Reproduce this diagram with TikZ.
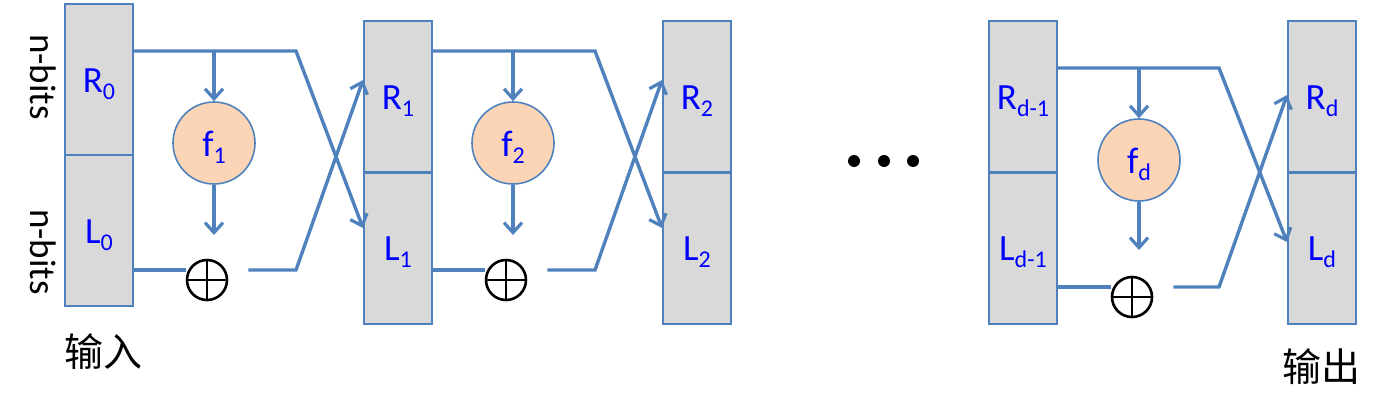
\documentclass[tikz,border=0pt]{standalone}
\usepackage{fontspec}
\setmainfont{Carlito}
\newfontfamily\cjk{Noto Sans CJK SC}
\usetikzlibrary{arrows.meta}
\definecolor{lnblue}{RGB}{79,129,189}
\definecolor{boxgray}{RGB}{217,217,217}
\definecolor{peach}{RGB}{251,213,181}
\definecolor{txtblue}{RGB}{0,0,255}
\newcommand\sbs[1]{\raisebox{-0.4ex}{\fontsize{12}{12}\selectfont #1}}
\newcommand\lbl[1]{\raisebox{-2.2pt}[\height][\depth]{#1}}
\begin{document}
\begin{tikzpicture}[x=0.5pt,y=-0.5pt,
 half/.style={draw=lnblue,line width=1pt,fill=boxgray,minimum width=34pt,minimum height=75.5pt,inner sep=0pt,text=txtblue,font=\fontsize{18.5}{18.5}\selectfont},
 func/.style={circle,draw=lnblue,line width=0.8pt,fill=peach,minimum size=41pt,inner sep=0pt,text=txtblue,font=\fontsize{18.5}{18.5}\selectfont},
 xor/.style={circle,draw=black,line width=1.3pt,minimum size=20pt,inner sep=0pt,path picture={\draw[black,line width=1.3pt] (path picture bounding box.north)--(path picture bounding box.south) (path picture bounding box.west)--(path picture bounding box.east);}},
 wire/.style={draw=lnblue,line width=1.7pt},
 arr/.style={wire,-{Straight Barb[length=5pt,width=9pt,line width=1.6pt]}},
 side/.style={rotate=-90,font=\fontsize{18.5}{18.5}\selectfont},
 cjklab/.style={font=\cjk\fontsize{19.5}{19.5}\selectfont},
 dot/.style={circle,fill=black,minimum size=6pt,inner sep=0pt}
]
\useasboundingbox (0,0) rectangle (1384,413);

% boxes
\node[half] (R0) at (99,79.5) {\lbl{R\sbs{0}}};
\node[half] (L0) at (99,230.5) {\lbl{L\sbs{0}}};
\node[half] (R1) at (398,96.5) {\lbl{R\sbs{1}}};
\node[half] (L1) at (398,248) {\lbl{L\sbs{1}}};
\node[half] (R2) at (697,96.5) {\lbl{R\sbs{2}}};
\node[half] (L2) at (697,248) {\lbl{L\sbs{2}}};
\node[half] (Rm) at (1023,96.5) {\lbl{R\sbs{d-1}}};
\node[half] (Lm) at (1023,248) {\lbl{L\sbs{d-1}}};
\node[half] (Rd) at (1322,96.5) {\lbl{R\sbs{d}}};
\node[half] (Ld) at (1322,248) {\lbl{L\sbs{d}}};

% functions and xors
\node[func] (f1) at (214,143) {\lbl{f\sbs{1}}};
\node[func] (f2) at (513,143) {\lbl{f\sbs{2}}};
\node[func] (fd) at (1139,160) {\lbl{f\sbs{d}}};
\node[xor] (x1) at (207,280) {};
\node[xor] (x2) at (506,280) {};
\node[xor] (xd) at (1132,297) {};

% round 1
\coordinate (a1) at (296,51);
\coordinate (b1) at (296,270);
\coordinate (o1) at ([xshift=10pt]x1.east);
\draw[arr] (R0.east |- a1) -- (a1) -- (L1.west |- 0,228);
\draw[arr] (f1.north |- a1) -- (f1.north);
\draw[arr] (f1.south) -- (f1.south |- 0,235);
\draw[wire] (L0.east |- b1) -- (x1.west |- b1);
\draw[arr] (o1 |- b1) -- (b1) -- (R1.west |- 0,80);

% round 2
\coordinate (a2) at (595,51);
\coordinate (b2) at (595,270);
\coordinate (o2) at ([xshift=10pt]x2.east);
\draw[arr] (R1.east |- a2) -- (a2) -- (L2.west |- 0,228);
\draw[arr] (f2.north |- a2) -- (f2.north);
\draw[arr] (f2.south) -- (f2.south |- 0,235);
\draw[wire] (L1.east |- b2) -- (x2.west |- b2);
\draw[arr] (o2 |- b2) -- (b2) -- (R2.west |- 0,80);

% round d
\coordinate (ad) at (1219,68);
\coordinate (bd) at (1219,287);
\coordinate (od) at ([xshift=10pt]xd.east);
\draw[arr] (Rm.east |- ad) -- (ad) -- (Ld.west |- 0,242);
\draw[arr] (fd.north |- ad) -- (fd.north);
\draw[arr] (fd.south) -- (fd.south |- 0,250);
\draw[wire] (Lm.east |- bd) -- (xd.west |- bd);
\draw[arr] (od |- bd) -- (bd) -- (Rd.west |- 0,95);

% dots
\node[dot] (d1) at (854,161) {};
\node[dot] (d2) at (884,161) {};
\node[dot] (d3) at (913,161) {};

% labels
\node[side] (nb1) at (43,77) {n-bits};
\node[side] (nb2) at (43,252) {n-bits};
\node[cjklab] (in) at (103,352) {输入};
\node[cjklab] (out) at (1321,367) {输出};
\end{tikzpicture}
\end{document}
